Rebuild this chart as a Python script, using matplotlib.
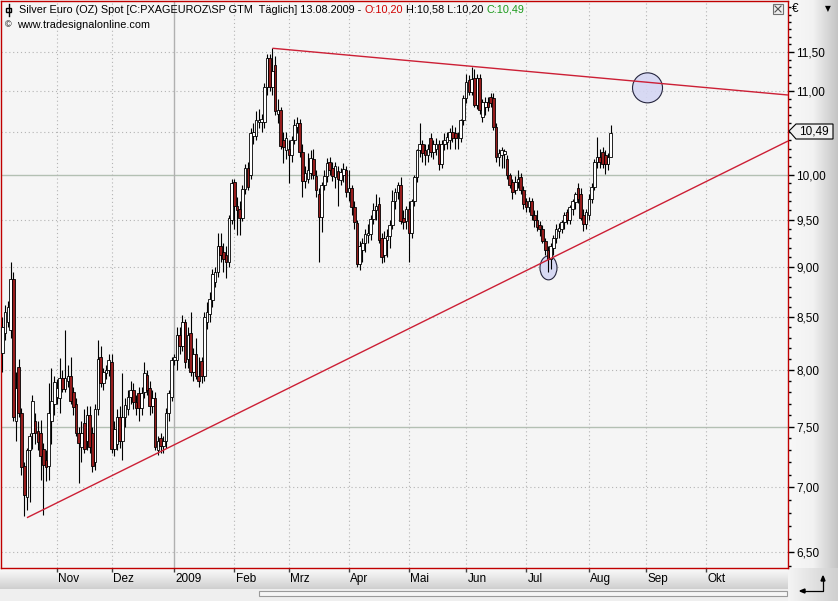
import numpy as np
import pandas as pd
import matplotlib
matplotlib.use("Agg")
import matplotlib.pyplot as plt
from matplotlib.patches import Ellipse, Polygon, Rectangle
from matplotlib.transforms import ScaledTranslation, blended_transform_factory
from matplotlib.ticker import FixedLocator, NullFormatter, FuncFormatter

# ---------------- data ----------------
start_date = "2008-10-06"
opens = [8.16, 8.35, 8.45, 8.37, 8.88, 7.55, 8.03, 7.62, 7.17, 6.92,
         7.30, 7.45, 7.55, 7.46, 7.45, 7.31, 7.22, 7.17, 7.55, 7.70,
         7.76, 7.75, 7.93, 7.83, 7.90, 7.95, 7.80, 7.70, 7.45, 7.33,
         7.53, 7.38, 7.60, 7.45, 7.20, 7.65, 8.12, 7.88, 7.97, 8.00,
         8.07, 7.31, 7.35, 7.58, 7.38, 7.58, 7.65, 7.76, 7.82, 7.71,
         7.79, 7.66, 7.80, 7.96, 7.84, 7.68, 7.75, 7.30, 7.40, 7.34,
         7.38, 7.62, 7.76, 8.09, 8.09, 8.33, 8.22, 8.45, 8.10, 8.35,
         7.98, 8.15, 7.95, 8.08, 7.95, 8.45, 8.53, 8.67, 8.85, 8.95,
         9.22, 9.15, 9.12, 9.05, 9.50, 9.91, 9.65, 9.62, 9.52, 9.84,
         10.08, 10.00, 10.45, 10.45, 10.62, 10.62, 10.62, 11.05, 11.42, 11.05,
         11.33, 10.72, 10.77, 10.40, 10.28, 10.30, 10.22, 10.40, 10.56, 10.60,
         10.26, 9.93, 9.95, 10.02, 10.18, 9.98, 9.78, 9.53, 9.88, 9.98,
         10.15, 10.08, 9.97, 10.04, 9.94, 10.00, 10.05, 9.80, 9.85, 9.64,
         9.46, 9.03, 9.18, 9.25, 9.33, 9.34, 9.51, 9.60, 9.67, 9.30,
         9.12, 9.28, 9.32, 9.44, 9.70, 9.80, 9.88, 9.52, 9.48, 9.62,
         9.35, 9.70, 9.97, 10.28, 10.35, 10.28, 10.22, 10.43, 10.26, 10.30,
         10.36, 10.12, 10.35, 10.38, 10.40, 10.50, 10.48, 10.42, 10.42, 10.64,
         10.91, 11.14, 10.99, 11.17, 10.83, 11.17, 10.68, 10.80, 10.86, 10.92,
         10.91, 10.56, 10.20, 10.22, 10.24, 10.18, 9.99, 9.91, 9.82, 9.92,
         9.97, 9.82, 9.70, 9.64, 9.70, 9.55, 9.50, 9.44, 9.40, 9.27,
         9.18, 9.08, 9.20, 9.30, 9.38, 9.40, 9.47, 9.58, 9.49, 9.62,
         9.69, 9.85, 9.78, 9.55, 9.45, 9.55, 9.72, 9.86, 10.14, 10.20,
         10.26, 10.22, 10.12, 10.20]
highs = [8.50, 8.62, 8.66, 9.05, 8.95, 7.98, 8.10, 7.66, 7.20, 7.32,
         7.45, 7.78, 7.62, 7.55, 7.56, 7.36, 7.30, 7.88, 8.02, 7.95,
         7.92, 8.11, 8.00, 8.37, 8.05, 8.12, 7.85, 7.75, 7.50, 7.55,
         7.65, 7.68, 7.68, 7.50, 7.70, 8.28, 8.22, 8.02, 8.05, 8.15,
         8.15, 7.55, 7.65, 7.68, 7.97, 7.75, 7.82, 7.90, 7.88, 7.78,
         7.85, 7.85, 8.07, 8.00, 7.90, 7.82, 7.80, 7.42, 7.45, 7.42,
         7.66, 7.82, 8.12, 8.15, 8.40, 8.40, 8.52, 8.48, 8.40, 8.55,
         8.20, 8.30, 8.12, 8.12, 8.55, 8.65, 8.75, 8.98, 9.00, 9.36,
         9.36, 9.25, 9.22, 9.55, 9.95, 9.95, 9.75, 9.70, 9.88, 10.12,
         10.15, 10.55, 10.60, 10.75, 10.78, 10.72, 11.10, 11.48, 11.48, 11.55,
         11.45, 10.90, 10.80, 10.50, 10.50, 10.40, 10.45, 10.66, 10.68, 10.65,
         10.35, 10.10, 10.25, 10.28, 10.30, 10.05, 9.85, 9.92, 10.05, 10.19,
         10.20, 10.15, 10.15, 10.10, 10.08, 10.13, 10.10, 10.05, 9.88, 9.70,
         9.50, 9.27, 9.30, 9.40, 9.45, 9.55, 9.68, 9.78, 9.75, 9.35,
         9.38, 9.40, 9.50, 9.82, 9.85, 9.92, 9.97, 9.60, 9.65, 9.70,
         9.72, 10.00, 10.30, 10.60, 10.40, 10.35, 10.35, 10.48, 10.40, 10.42,
         10.40, 10.40, 10.48, 10.50, 10.55, 10.58, 10.56, 10.50, 10.66, 10.95,
         11.22, 11.20, 11.31, 11.28, 11.22, 11.22, 10.90, 10.92, 10.92, 10.98,
         10.98, 10.60, 10.30, 10.32, 10.30, 10.22, 10.02, 9.95, 9.98, 10.05,
         10.02, 9.87, 9.74, 9.75, 9.74, 9.60, 9.60, 9.48, 9.44, 9.30,
         9.22, 9.25, 9.33, 9.45, 9.46, 9.50, 9.58, 9.62, 9.66, 9.72,
         9.80, 9.90, 9.85, 9.62, 9.62, 9.78, 9.90, 10.18, 10.44, 10.30,
         10.32, 10.28, 10.25, 10.58]
lows = [7.98, 8.28, 8.40, 8.30, 7.55, 7.38, 7.58, 7.10, 6.77, 6.82,
        6.88, 7.31, 7.35, 7.30, 7.06, 6.78, 7.05, 7.06, 7.35, 7.60,
        7.70, 7.62, 7.80, 7.80, 7.85, 7.70, 7.60, 7.42, 7.03, 7.20,
        7.28, 7.30, 7.28, 7.12, 7.14, 7.60, 7.85, 7.82, 7.92, 7.95,
        7.28, 7.25, 7.30, 7.32, 7.22, 7.50, 7.60, 7.70, 7.65, 7.60,
        7.55, 7.60, 7.75, 7.78, 7.60, 7.62, 7.30, 7.26, 7.28, 7.28,
        7.32, 7.55, 7.72, 8.05, 8.00, 8.15, 8.18, 8.02, 8.02, 7.95,
        7.90, 7.92, 7.85, 7.88, 7.90, 8.38, 8.45, 8.60, 8.80, 8.90,
        9.05, 8.95, 8.89, 9.00, 9.45, 9.40, 9.33, 9.33, 9.48, 9.78,
        9.82, 9.95, 10.35, 10.40, 10.55, 10.50, 10.55, 10.95, 11.00, 10.95,
        10.70, 10.60, 10.30, 10.13, 10.18, 9.90, 10.15, 10.35, 10.48, 10.20,
        9.75, 9.85, 9.90, 9.95, 9.95, 9.75, 9.05, 9.37, 9.82, 9.92,
        10.00, 9.93, 9.85, 9.65, 9.88, 9.92, 9.75, 9.70, 9.55, 9.40,
        9.00, 8.97, 9.05, 9.15, 9.25, 9.28, 9.45, 9.50, 9.25, 9.04,
        9.05, 9.10, 9.20, 9.40, 9.62, 9.72, 9.45, 9.40, 9.40, 9.05,
        9.30, 9.65, 9.92, 10.20, 10.15, 10.11, 10.15, 10.20, 10.18, 10.22,
        10.05, 10.08, 10.28, 10.30, 10.30, 10.38, 10.30, 10.30, 10.38, 10.58,
        10.85, 10.95, 10.95, 10.80, 10.78, 10.72, 10.62, 10.70, 10.75, 10.80,
        10.52, 10.15, 10.10, 10.07, 10.08, 9.95, 9.85, 9.73, 9.78, 9.85,
        9.78, 9.62, 9.58, 9.58, 9.50, 9.42, 9.38, 9.32, 9.25, 9.12,
        8.95, 8.98, 9.12, 9.25, 9.30, 9.35, 9.40, 9.45, 9.45, 9.55,
        9.62, 9.68, 9.50, 9.38, 9.40, 9.50, 9.68, 9.82, 10.08, 10.08,
        10.08, 10.01, 10.05, 10.20]
closes = [8.40, 8.55, 8.60, 8.88, 7.58, 7.84, 7.62, 7.16, 6.94, 7.30,
          7.42, 7.72, 7.45, 7.37, 7.25, 7.18, 7.16, 7.62, 7.72, 7.89,
          7.84, 7.93, 7.83, 7.93, 7.95, 7.72, 7.67, 7.45, 7.36, 7.45,
          7.31, 7.60, 7.33, 7.17, 7.65, 8.10, 7.88, 7.98, 8.00, 8.09,
          7.31, 7.48, 7.58, 7.38, 7.58, 7.69, 7.76, 7.82, 7.71, 7.66,
          7.66, 7.79, 7.97, 7.82, 7.68, 7.75, 7.33, 7.38, 7.34, 7.38,
          7.62, 7.79, 8.09, 8.12, 8.33, 8.22, 8.45, 8.07, 8.33, 7.98,
          8.15, 7.95, 7.90, 7.95, 8.50, 8.55, 8.68, 8.93, 8.95, 9.22,
          9.12, 9.08, 9.05, 9.52, 9.90, 9.65, 9.60, 9.52, 9.84, 10.08,
          9.86, 10.49, 10.50, 10.64, 10.64, 10.66, 11.05, 11.42, 11.05, 11.25,
          10.75, 10.77, 10.33, 10.32, 10.43, 10.22, 10.40, 10.58, 10.60, 10.26,
          9.93, 10.02, 10.05, 10.19, 10.00, 9.82, 9.53, 9.88, 9.98, 10.13,
          10.05, 9.98, 10.10, 9.95, 10.03, 10.06, 9.80, 9.85, 9.64, 9.47,
          9.03, 9.22, 9.25, 9.34, 9.35, 9.51, 9.60, 9.65, 9.28, 9.10,
          9.30, 9.32, 9.44, 9.70, 9.80, 9.88, 9.48, 9.47, 9.62, 9.35,
          9.70, 9.97, 10.28, 10.35, 10.25, 10.22, 10.30, 10.26, 10.35, 10.36,
          10.12, 10.36, 10.40, 10.44, 10.50, 10.43, 10.42, 10.44, 10.64, 10.91,
          11.12, 10.99, 11.15, 10.83, 11.17, 10.77, 10.86, 10.86, 10.80, 10.85,
          10.56, 10.20, 10.25, 10.28, 10.27, 9.99, 9.88, 9.80, 9.92, 9.95,
          9.82, 9.67, 9.64, 9.70, 9.55, 9.49, 9.42, 9.40, 9.27, 9.18,
          9.08, 9.22, 9.30, 9.40, 9.41, 9.47, 9.55, 9.49, 9.64, 9.70,
          9.78, 9.72, 9.52, 9.45, 9.58, 9.73, 9.86, 10.14, 10.20, 10.14,
          10.12, 10.12, 10.20, 10.49]

month_labels = ["Nov", "Dez", "2009", "Feb", "Mrz", "Apr", "Mai", "Jun",
                "Jul", "Aug", "Sep", "Okt"]
y_major = [6.5, 7.0, 7.5, 8.0, 8.5, 9.0, 9.5, 10.0, 10.5, 11.0, 11.5]
solid_levels = [7.5, 10.0]
last_close_label = "10,49"
last_close = 10.49

# trend lines (anchor points: index, price)
upper_line = [(99, 11.55), (288, 10.95)]
lower_line = [(9, 6.76), (288, 10.39)]
# highlight ellipses: (index, price, width px, height px)
marks = [(200.2, 8.99, 17, 24), (236.5, 11.04, 30, 30)]

# ---------------- figure ----------------
W, H, DPI = 838, 601, 100
fig = plt.figure(figsize=(W / DPI, H / DPI), dpi=DPI)
fig.patch.set_facecolor("#f4f4f4")
FONT = "Liberation Sans"
plt.rcParams["font.family"] = [FONT, "DejaVu Sans"]

def fx(px):
    return px / W

def fy(py):
    return 1 - py / H

# right price panel gradient
pax = fig.add_axes([fx(788), fy(568), 50 / W, 568 / H], zorder=-2)
grad = np.linspace(0, 1, 256).reshape(1, -1)
pax.imshow(grad, aspect="auto", cmap=matplotlib.colors.LinearSegmentedColormap.from_list(
    "g", ["#f8f8f8", "#f2f2f2", "#c4c4c4"]), extent=[0, 1, 0, 1])
pax.axis("off")

# bottom time band gradient
bax = fig.add_axes([0, fy(589), 788 / W, 21 / H], zorder=-2)
bax.imshow(np.linspace(0, 1, 64).reshape(-1, 1), aspect="auto",
           cmap=matplotlib.colors.LinearSegmentedColormap.from_list(
               "b", ["#fbfbfb", "#e6e6e6", "#cfcfcf"]), extent=[0, 1, 0, 1])
bax.axis("off")

# corner box
cax = fig.add_axes([fx(788), 0, 50 / W, 33 / H], zorder=-2)
cax.imshow(np.linspace(0, 1, 64).reshape(1, -1), aspect="auto",
           cmap=matplotlib.colors.LinearSegmentedColormap.from_list(
               "c", ["#f4f4f4", "#d0d0d0"]), extent=[0, 1, 0, 1])
cax.axis("off")

# ---------------- main axes ----------------
ax = fig.add_axes([fx(1), fy(568), 787 / W, 567 / H])
ax.set_facecolor("#f5f5f5")
ax.set_yscale("log")
ax.set_ylim(6.383, 12.19)
ax.set_xlim(-0.51, 288.0)

n = len(closes)
x = np.arange(n)
all_days = pd.bdate_range(start_date, "2009-11-30")
ms = pd.Series(np.arange(len(all_days)), index=all_days)
firsts = ms.groupby([all_days.year, all_days.month]).first()
month_pos = list(firsts.values[1:1 + len(month_labels)])

# grid
for lv in y_major:
    if lv in solid_levels:
        ax.axhline(lv, color="#b3c0b3", lw=1.0, zorder=1)
    else:
        ax.axhline(lv, color="#b4b4b4", lw=0.8, ls=(0, (1, 2.5)), zorder=1)
for p, lab in zip(month_pos, month_labels):
    if lab == "2009":
        ax.axvline(p, color="#b0b0b0", lw=1.0, zorder=1)
    else:
        ax.axvline(p, color="#b4b4b4", lw=0.8, ls=(0, (1, 2.5)), zorder=1)

# candles
o = np.array(opens); h = np.array(highs); l = np.array(lows); c = np.array(closes)
ax.vlines(x, l, h, color="black", lw=0.8, zorder=3)
up = c >= o
bottoms = np.minimum(o, c)
heights = np.maximum(np.abs(c - o), 0.004)
ax.bar(x[up], heights[up], bottom=bottoms[up], width=0.95, color="white",
       edgecolor="black", linewidth=0.6, zorder=4)
ax.bar(x[~up], heights[~up], bottom=bottoms[~up], width=0.95, color="#961c1c",
       edgecolor="black", linewidth=0.6, zorder=4)

# highlight ellipses
for (xi, yi, wp, hp) in marks:
    tr = fig.dpi_scale_trans + ScaledTranslation(xi, yi, ax.transData)
    e = Ellipse((0, 0), wp / DPI, hp / DPI, transform=tr, facecolor="#d4d6f3",
                edgecolor="#10102a", lw=0.8, alpha=0.9, zorder=2.5)
    ax.add_patch(e)

# trend lines
for line in (upper_line, lower_line):
    ax.plot([line[0][0], line[1][0]], [line[0][1], line[1][1]],
            color="#cc1f35", lw=1.0, zorder=5, solid_capstyle="butt")

# spines
for s in ax.spines.values():
    s.set_color("#c00000")
    s.set_linewidth(1.0)

# y axis on right (label under the last-price marker is hidden by it)
def yfmt(v, p):
    if abs(v - last_close) < 0.03:
        return ""
    return f"{v:.2f}".replace(".", ",")

ax.yaxis.tick_right()
ax.yaxis.set_major_locator(FixedLocator(y_major))
minors = [round(v, 2) for v in np.arange(6.4, 12.2, 0.1) if all(abs(v - m) > 1e-6 for m in y_major)]
ax.yaxis.set_minor_locator(FixedLocator(minors))
ax.yaxis.set_major_formatter(FuncFormatter(yfmt))
ax.yaxis.set_minor_formatter(NullFormatter())
ax.tick_params(axis="y", which="major", direction="out", length=4, width=1,
               color="black", pad=2, labelsize=8.5, labelcolor="black")
ax.tick_params(axis="y", which="minor", direction="out", length=2.5, width=1, color="black")
ax.tick_params(axis="y", left=False, which="both")

# x axis ticks
ax.xaxis.set_major_locator(FixedLocator(month_pos))
ax.xaxis.set_minor_locator(FixedLocator([]))
ax.tick_params(axis="x", which="major", direction="out", length=3, width=1,
               color="#404040", labelbottom=False)
btr = blended_transform_factory(ax.transData, fig.transFigure)
for p, lab in zip(month_pos, month_labels):
    ax.text(p + 0.5, fy(579), lab, transform=btr, ha="left", va="center",
            fontsize=8.5, color="black", clip_on=False)

# last price marker
px0, py0 = 789, 131
poly = Polygon([[fx(px0), fy(py0)], [fx(796), fy(124)], [fx(833), fy(124)],
                [fx(833), fy(139)], [fx(796), fy(139)]], closed=True,
               transform=fig.transFigure, facecolor="#f0f0f0", edgecolor="black",
               lw=0.8, zorder=10)
fig.patches.append(poly)
fig.text(fx(814), fy(131.5), last_close_label, ha="center", va="center",
         fontsize=8.5, zorder=11)

# euro and dropdown
fig.text(fx(792), fy(9), "€", ha="left", va="center", fontsize=8.5)
fig.text(fx(828), fy(9), "▼", ha="center", va="center", fontsize=5.5,
         family="DejaVu Sans")

# header texts
fig.canvas.draw()
r = fig.canvas.get_renderer()
parts = [("Silver Euro (OZ) Spot [C:PXAGEUROZ\\SP GTM  Täglich] 13.08.2009 - ", "black"),
         ("O:10,20", "#d00000"), (" H:10,58 L:10,20 ", "black"), ("C:10,49", "#1a9a1a")]
cx = 19
for s, col in parts:
    t = fig.text(fx(cx), fy(10), s, color=col, ha="left", va="center", fontsize=7.8)
    bb = t.get_window_extent(renderer=r)
    cx += bb.width
fig.text(fx(5), fy(25), "©", ha="left", va="center", fontsize=6.5)
fig.text(fx(17), fy(25), "www.tradesignalonline.com", ha="left", va="center", fontsize=7.8)

# small header icon
fig.lines.append(plt.Line2D([fx(8.5), fx(8.5)], [fy(4), fy(16)], color="black", lw=1,
                            transform=fig.transFigure))
fig.patches.append(Rectangle((fx(6), fy(12)), 5 / W, 4 / H, transform=fig.transFigure,
                             facecolor="none", edgecolor="black", lw=1))
# close box
fig.patches.append(Rectangle((fx(773), fy(14)), 10 / W, 10 / H, transform=fig.transFigure,
                             facecolor="#eeeeee", edgecolor="#707070", lw=0.8))
fig.lines.append(plt.Line2D([fx(775), fx(781)], [fy(6), fy(12)], color="#505050", lw=0.8,
                            transform=fig.transFigure))
fig.lines.append(plt.Line2D([fx(775), fx(781)], [fy(12), fy(6)], color="#505050", lw=0.8,
                            transform=fig.transFigure))

# scrollbar
fig.patches.append(Rectangle((0, 0), 788 / W, 12 / H, transform=fig.transFigure,
                             facecolor="#efefef", edgecolor="none", zorder=-1))
fig.patches.append(Rectangle((fx(259), fy(596)), 528 / W, 5 / H, transform=fig.transFigure,
                             facecolor="#f6f6f6", edgecolor="#9a9a9a", lw=0.8))

# corner arrow
fig.lines.append(plt.Line2D([fx(802), fx(823), fx(823)], [fy(591), fy(591), fy(578)],
                            color="black", lw=0.9, transform=fig.transFigure))
fig.patches.append(Polygon([[fx(800), fy(591)], [fx(805), fy(589)], [fx(805), fy(593)]],
                           closed=True, transform=fig.transFigure, color="black"))
fig.patches.append(Polygon([[fx(823), fy(576)], [fx(821), fy(581)], [fx(825), fy(581)]],
                           closed=True, transform=fig.transFigure, color="black"))

fig.savefig("out.png", dpi=DPI, facecolor=fig.get_facecolor())
